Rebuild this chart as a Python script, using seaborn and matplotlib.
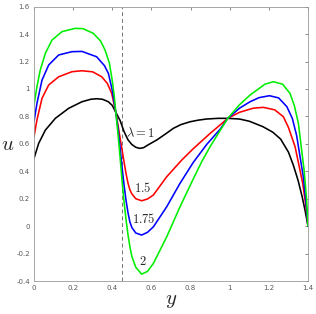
import numpy as np
import pandas as pd
import seaborn as sns
import matplotlib
matplotlib.use("Agg")
import matplotlib.pyplot as plt

# values, one curve per lambda
y_l1 = [0, 0.024, 0.058, 0.109, 0.177, 0.245, 0.29, 0.32, 0.35, 0.38, 0.40, 0.418, 0.44, 0.46, 0.48,
        0.50, 0.52, 0.54, 0.56, 0.58, 0.627, 0.67, 0.712, 0.75, 0.797, 0.84, 0.882, 0.94, 0.99, 1.05,
        1.1, 1.17, 1.22, 1.26, 1.30, 1.325, 1.35, 1.37, 1.385, 1.4]
u_l1 = [0.494, 0.604, 0.70, 0.786, 0.859, 0.907, 0.925, 0.929, 0.925, 0.907, 0.88, 0.83, 0.77, 0.69, 0.63,
        0.595, 0.575, 0.567, 0.572, 0.59, 0.628, 0.67, 0.713, 0.74, 0.761, 0.773, 0.781, 0.786, 0.786, 0.781,
        0.765, 0.725, 0.685, 0.635, 0.54, 0.445, 0.33, 0.215, 0.115, 0.0]

y_l15 = [0, 0.015, 0.041, 0.075, 0.126, 0.194, 0.245, 0.30, 0.346, 0.375, 0.397, 0.418, 0.43, 0.44,
         0.45, 0.46, 0.47, 0.48, 0.49, 0.50, 0.52, 0.55, 0.58, 0.61, 0.678, 0.755, 0.814, 0.899, 0.95,
         0.99, 1.05, 1.12, 1.172, 1.23, 1.274, 1.30, 1.334, 1.373, 1.39, 1.4]
u_l15 = [0.652, 0.774, 0.932, 1.029, 1.089, 1.126, 1.133, 1.125, 1.089, 1.04, 0.968, 0.83, 0.73, 0.64,
         0.555, 0.47, 0.385, 0.315, 0.265, 0.235, 0.20, 0.185, 0.198, 0.227, 0.36, 0.482, 0.565, 0.675, 0.737,
         0.786, 0.83, 0.86, 0.866, 0.848, 0.798, 0.72, 0.579, 0.312, 0.14, 0.0]

y_l175 = [0, 0.015, 0.041, 0.075, 0.126, 0.194, 0.245, 0.32, 0.36, 0.38, 0.40, 0.418, 0.43, 0.44,
          0.45, 0.46, 0.47, 0.48, 0.49, 0.50, 0.52, 0.55, 0.58, 0.61, 0.678, 0.746, 0.814, 0.882, 0.95,
          0.99, 1.05, 1.104, 1.15, 1.203, 1.25, 1.292, 1.32, 1.342, 1.376, 1.39, 1.4]
u_l175 = [0.761, 0.895, 1.065, 1.175, 1.248, 1.272, 1.274, 1.235, 1.17, 1.114, 0.99, 0.83, 0.70, 0.57,
          0.43, 0.30, 0.19, 0.10, 0.03, -0.01, -0.05, -0.065, -0.045, -0.005, 0.141, 0.312, 0.465, 0.595, 0.705,
          0.786, 0.86, 0.907, 0.937, 0.951, 0.935, 0.871, 0.785, 0.66, 0.36, 0.17, 0.0]

y_l2 = [0, 0.015, 0.032, 0.058, 0.092, 0.143, 0.21, 0.25, 0.303, 0.34, 0.363, 0.385, 0.40, 0.41, 0.418,
        0.43, 0.44, 0.45, 0.46, 0.47, 0.48, 0.49, 0.50, 0.52, 0.55, 0.58, 0.61, 0.678, 0.746, 0.814,
        0.857, 0.90, 0.95, 0.99, 1.05, 1.104, 1.18, 1.223, 1.27, 1.308, 1.33, 1.351, 1.38, 1.393, 1.4]
u_l2 = [0.883, 1.017, 1.138, 1.26, 1.357, 1.418, 1.442, 1.44, 1.406, 1.35, 1.284, 1.19, 1.06, 0.95, 0.83,
        0.66, 0.50, 0.33, 0.18, 0.05, -0.06, -0.15, -0.22, -0.30, -0.35, -0.33, -0.272, -0.078, 0.141, 0.345,
        0.47, 0.58, 0.695, 0.786, 0.885, 0.956, 1.035, 1.053, 1.035, 0.968, 0.88, 0.749, 0.409, 0.19, 0.0]

lam_names = ["1", "1.5", "1.75", "2"]
lam_colors = ["black", "#ff0000", "#0000ff", "#00ee00"]
y_ticks = [0, 0.2, 0.4, 0.6, 0.8, 1, 1.2, 1.4]
u_ticks = [-0.4, -0.2, 0, 0.2, 0.4, 0.6, 0.8, 1, 1.2, 1.4, 1.6]
y_dash = 0.45

frames = []
for name, xs, us in zip(lam_names, [y_l1, y_l15, y_l175, y_l2], [u_l1, u_l15, u_l175, u_l2]):
    frames.append(pd.DataFrame({"y": xs, "u": us, "lam": name}))
df = pd.concat(frames, ignore_index=True)

sns.set_style("white")
plt.rcParams["mathtext.fontset"] = "cm"
plt.rcParams["font.family"] = ["DejaVu Sans"]

fig = plt.figure(figsize=(3.16, 3.14), dpi=100)
ax = fig.add_axes([34/316, 1-281/314, 274/316, 274.3/314])

sns.lineplot(data=df, x="y", y="u", hue="lam", hue_order=lam_names, palette=lam_colors,
             estimator=None, units="lam", sort=False, linewidth=1.15, legend=False, ax=ax)
ax.axvline(y_dash, color="0.45", linestyle=(0, (4, 3)), linewidth=0.7, zorder=0)

ax.set_xlim(0, 1.4)
ax.set_ylim(-0.4, 1.6)
ax.set_xticks(y_ticks)
ax.set_xticklabels(["%g" % t for t in y_ticks])
ax.set_yticks(u_ticks)
ax.set_yticklabels(["%g" % t for t in u_ticks])
ax.tick_params(direction="in", length=2.5, width=0.5, labelsize=5, colors="0.35",
               top=True, right=True, pad=3)
for s in ax.spines.values():
    s.set_color("0.6")
    s.set_linewidth(0.6)

ax.set_xlabel(r"$y$", fontsize=15, labelpad=-1)
ax.set_ylabel(r"$u$", fontsize=15, labelpad=6, rotation=0, va="center")

ax.text(0.542, 0.677, r"$\lambda = 1$", fontsize=9, ha="center", va="center")
ax.text(0.555, 0.275, r"$1.5$", fontsize=9, ha="center", va="center")
ax.text(0.559, 0.052, r"$1.75$", fontsize=9, ha="center", va="center")
ax.text(0.555, -0.26, r"$2$", fontsize=9, ha="center", va="center")

fig.savefig("out.png", dpi=100)
